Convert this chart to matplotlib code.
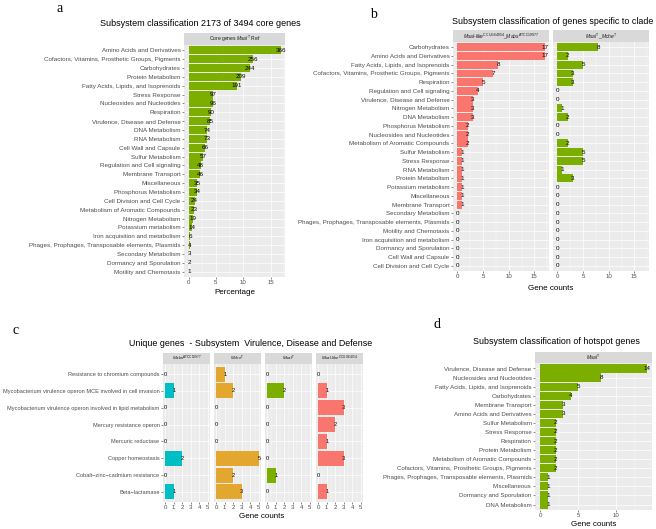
import matplotlib
matplotlib.use("Agg")
import matplotlib.pyplot as plt
import numpy as np

plt.rcParams['font.family'] = ['Liberation Sans', 'DejaVu Sans']
plt.rcParams['mathtext.fontset'] = 'custom'
plt.rcParams['mathtext.rm'] = 'Liberation Sans'
plt.rcParams['mathtext.it'] = 'Liberation Sans:italic'

W, H = 656, 529
GREEN = '#7CAE00'
RED = '#F8766D'
TEAL = '#00BFC4'
GOLD = '#E3A72F'
PANEL = '#EBEBEB'
STRIP = '#D9D9D9'

# ---- panel a: core genes (counts, plotted as % of 2173)
core_total = 2173
core_cats = ["Amino Acids and Derivatives",
             "Cofactors, Vitamins, Prosthetic Groups, Pigments",
             "Carbohydrates", "Protein Metabolism",
             "Fatty Acids, Lipids, and Isoprenoids", "Stress Response",
             "Nucleosides and Nucleotides", "Respiration",
             "Virulence, Disease and Defense", "DNA Metabolism",
             "RNA Metabolism", "Cell Wall and Capsule", "Sulfur Metabolism",
             "Regulation and Cell signaling", "Membrane Transport",
             "Miscellaneous", "Phosphorus Metabolism",
             "Cell Division and Cell Cycle",
             "Metabolism of Aromatic Compounds", "Nitrogen Metabolism",
             "Potassium metabolism", "Iron acquisition and metabolism",
             "Phages, Prophages, Transposable elements, Plasmids",
             "Secondary Metabolism", "Dormancy and Sporulation",
             "Motility and Chemotaxis"]
core_counts = [366, 256, 244, 209, 191, 97, 96, 90, 85, 74, 73, 66, 57, 48,
               46, 35, 34, 24, 23, 19, 14, 6, 4, 3, 2, 1]

# ---- panel b: clade specific genes
clade_cats = ["Carbohydrates", "Amino Acids and Derivatives",
              "Fatty Acids, Lipids, and Isoprenoids",
              "Cofactors, Vitamins, Prosthetic Groups, Pigments",
              "Respiration", "Regulation and Cell signaling",
              "Virulence, Disease and Defense", "Nitrogen Metabolism",
              "DNA Metabolism", "Phosphorus Metabolism",
              "Nucleosides and Nucleotides",
              "Metabolism of Aromatic Compounds", "Sulfur Metabolism",
              "Stress Response", "RNA Metabolism", "Protein Metabolism",
              "Potassium metabolism", "Miscellaneous", "Membrane Transport",
              "Secondary Metabolism",
              "Phages, Prophages, Transposable elements, Plasmids",
              "Motility and Chemotaxis", "Iron acquisition and metabolism",
              "Dormancy and Sporulation", "Cell Wall and Capsule",
              "Cell Division and Cell Cycle"]
clade_msal_like_mabs = [17, 17, 8, 7, 5, 4, 3, 3, 3, 2, 2, 2, 1, 1, 1, 1, 1,
                        1, 1, 0, 0, 0, 0, 0, 0, 0]
clade_msal_mche = [8, 2, 5, 3, 3, 0, 0, 1, 2, 0, 0, 2, 5, 5, 1, 3, 0, 0, 0,
                   0, 0, 0, 0, 0, 0, 0]

# ---- panel c: unique genes, virulence subsystem
vir_cats = ["Resistance to chromium compounds",
            "Mycobacterium virulence operon MCE involved in cell invasion",
            "Mycobacterium virulence operon involved in lipid metabolism",
            "Mercury resistance operon", "Mercuric reductase",
            "Copper homeostasis", "Cobalt\u2212zinc\u2212cadmium resistance",
            "Beta\u2212lactamase"]
vir_mabs = [0, 1, 0, 0, 0, 2, 0, 1]
vir_mche = [1, 2, 0, 0, 0, 5, 2, 3]
vir_msal = [0, 2, 0, 0, 0, 0, 1, 0]
vir_msal_like = [0, 1, 3, 2, 1, 3, 0, 1]

# ---- panel d: hotspot genes
hot_cats = ["Virulence, Disease and Defense", "Nucleosides and Nucleotides",
            "Fatty Acids, Lipids, and Isoprenoids", "Carbohydrates",
            "Membrane Transport", "Amino Acids and Derivatives",
            "Sulfur Metabolism", "Stress Response", "Respiration",
            "Protein Metabolism", "Metabolism of Aromatic Compounds",
            "Cofactors, Vitamins, Prosthetic Groups, Pigments",
            "Phages, Prophages, Transposable elements, Plasmids",
            "Miscellaneous", "Dormancy and Sporulation", "DNA Metabolism"]
hot_counts = [14, 8, 5, 4, 3, 3, 2, 2, 2, 2, 2, 2, 1, 1, 1, 1]

fig = plt.figure(figsize=(W / 100, H / 100), dpi=100)


def box(l, t, r, b):
    return [l / W, 1 - b / H, (r - l) / W, (b - t) / H]


def facet(l, t, r, b, strip_h, cats, vals, color, xlim, ticks, strip,
          labels=None, show_y=True, lab_fs=4.5, val_fs=4.5, strip_fs=3.6):
    ax = fig.add_axes(box(l, t, r, b))
    n = len(cats)
    y = np.arange(n)
    ax.set_facecolor(PANEL)
    ax.barh(y, vals, height=0.9, color=color, zorder=2)
    if labels is None:
        labels = vals
    for yi, v, lab in zip(y, vals, labels):
        ax.text(v, yi, str(lab), ha='center', va='center', fontsize=val_fs,
                color='black', zorder=3, clip_on=False)
    ax.set_xlim(*xlim)
    ax.set_ylim(n - 0.4, -0.6)
    ax.set_xticks(ticks)
    minor = [(a + c) / 2 for a, c in zip(ticks[:-1], ticks[1:])]
    if ticks[-1] + (ticks[1] - ticks[0]) / 2 < xlim[1]:
        minor.append(ticks[-1] + (ticks[1] - ticks[0]) / 2)
    ax.set_xticks(minor, minor=True)
    ax.set_yticks(y)
    ax.set_axisbelow(True)
    ax.grid(which='major', color='white', lw=0.5)
    ax.grid(which='minor', axis='x', color='white', lw=0.25)
    ax.tick_params(which='minor', length=0)
    ax.tick_params(which='major', length=1.5, width=0.4, color='#333333',
                   labelcolor='#4D4D4D', pad=1)
    ax.tick_params(axis='x', labelsize=4.4)
    if show_y:
        ax.set_yticklabels(cats, fontsize=lab_fs)
    else:
        ax.set_yticklabels([])
        ax.tick_params(axis='y', length=0)
    for s in ax.spines.values():
        s.set_visible(False)
    sx = fig.add_axes(box(l, t - strip_h, r, t))
    sx.set_facecolor(STRIP)
    sx.set_xticks([])
    sx.set_yticks([])
    for s in sx.spines.values():
        s.set_visible(False)
    sx.text(0.5, 0.5, strip, ha='center', va='center', fontsize=strip_fs,
            color='#1A1A1A', transform=sx.transAxes)
    return ax


def ftext(x, y, s, **kw):
    fig.text(x / W, 1 - y / H, s, ha='center', va='center', **kw)


# panel a
pct = [c / core_total * 100 for c in core_counts]
facet(184, 45, 285, 277, 12, core_cats, pct, GREEN, (-0.84, 17.65),
      [0, 5, 10, 15], r"Core genes $\mathit{Msal}^{\mathrm{T}}$ Ref",
      labels=core_counts)
ftext(60, 9, "a", fontsize=10, family='Liberation Serif')
ftext(200, 23, "Subsystem classification 2173 of 3494 core genes", fontsize=6.5)
ftext(235, 292, "Percentage", fontsize=5.8)

# panel b
facet(453, 42, 549, 271, 12, clade_cats, clade_msal_like_mabs, RED,
      (-0.85, 17.85), [0, 5, 10, 15],
      r"$\mathit{Msal}$-$\mathit{like}^{\mathrm{CCUG64054}}$_$\mathit{Mabs}^{\mathrm{ATCC19977}}$",
      lab_fs=4.5)
facet(553, 42, 649, 271, 12, clade_cats, clade_msal_mche, GREEN,
      (-0.85, 17.85), [0, 5, 10, 15],
      r"$\mathit{Msal}^{\mathrm{T}}$_$\mathit{Mche}^{\mathrm{T}}$",
      show_y=False)
ftext(373, 14, "b", fontsize=10, family='Liberation Serif')
ftext(553, 22, "Subsystem classification of genes specific to clade",
      fontsize=6.4)
ftext(551, 288, "Gene counts", fontsize=5.8)

# panel c
c_left = [163, 214, 265, 316]
c_vals = [vir_mabs, vir_mche, vir_msal, vir_msal_like]
c_cols = [TEAL, GOLD, GREEN, RED]
c_strips = [r"$\mathit{Mabs}^{\mathrm{ATCC19977}}$",
            r"$\mathit{Mche}^{\mathrm{T}}$",
            r"$\mathit{Msal}^{\mathrm{T}}$",
            r"$\mathit{Msal}$-$\mathit{like}^{\mathrm{CCUG64054}}$"]
for i in range(4):
    facet(c_left[i], 364, c_left[i] + 47, 502, 11, vir_cats, c_vals[i],
          c_cols[i], (-0.25, 5.25), [0, 1, 2, 3, 4, 5], c_strips[i],
          show_y=(i == 0), lab_fs=4.1, val_fs=4.0, strip_fs=3.2)
ftext(16, 331, "c", fontsize=10, family='Liberation Serif')
ftext(251, 343, "Unique genes  - Subsystem  Virulence, Disease and Defense",
      fontsize=6.4)
ftext(262, 517, "Gene counts", fontsize=5.8)

# panel d
facet(535, 363, 652, 510, 11, hot_cats, hot_counts, GREEN, (-0.7, 14.7),
      [0, 5, 10], r"$\mathit{Msal}^{\mathrm{T}}$", lab_fs=4.4)
ftext(437, 325, "d", fontsize=10, family='Liberation Serif')
ftext(556, 342, "Subsystem classification of hotspot genes", fontsize=6.4)
ftext(594, 525, "Gene counts", fontsize=5.8)

fig.savefig("out.png", dpi=100)
